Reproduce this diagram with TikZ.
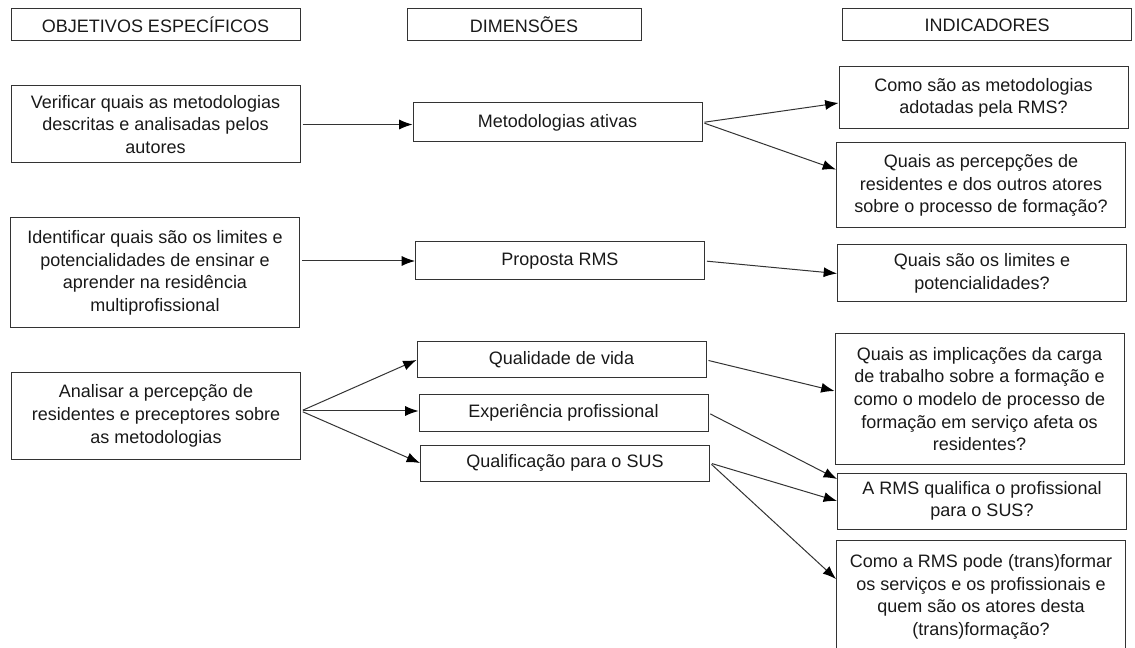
\documentclass[tikz,border=0pt]{standalone}
\usepackage{fontspec}
\setmainfont{Liberation Sans}
\usepackage{tikz}
\usetikzlibrary{arrows.meta}

\begin{document}
\begin{tikzpicture}[x=0.75pt, y=-0.75pt,
    box/.style={draw=black!80, line width=0.75pt, inner sep=0pt, align=center,
        minimum width=216.75pt, text=black!90, font=\fontsize{13.5}{17}\selectfont},
    arr/.style={draw=black!80, line width=0.75pt, shorten <=1.5pt,
        -{Latex[length=10pt,width=7.5pt,color=black]}}]

    % Fix the page to the size of the picture
    \useasboundingbox (0,0) rectangle (1135,648);

    % Draw the header boxes
    \node[box, minimum height=24pt] (hObj) at (155.5,25) {OBJETIVOS ESPECÍFICOS};
    \node[box, minimum height=24pt, minimum width=175.5pt] (hDim) at (524,25) {DIMENSÕES};
    \node[box, minimum height=24pt] (hInd) at (987,25) {INDICADORES};

    % Draw the objective boxes
    \node[box, minimum height=57.75pt] (obj1) at (155.5,124.5) {Verificar quais as metodologias\\descritas e analisadas pelos\\autores};
    \node[box, minimum height=82.5pt] (obj2) at (155,273) {Identificar quais são os limites e\\potencialidades de ensinar e\\aprender na residência\\multiprofissional};
    \node[box, minimum height=64.5pt] (obj3) at (156,416) {Analisar a percepção de\\residentes e preceptores sobre\\as metodologias};

    % Draw the dimension boxes
    \node[box, minimum height=29.25pt] (dim1) at (557.5,122.5) {Metodologias ativas};
    \node[box, minimum height=28.5pt] (dim2) at (560,261) {Proposta RMS};
    \node[box, minimum height=27pt] (dim3) at (561.5,360) {Qualidade de vida};
    \node[box, minimum height=27pt] (dim4) at (563.5,413) {Experiência profissional};
    \node[box, minimum height=27pt] (dim5) at (565,463) {Qualificação para o SUS};

    % Draw the indicator boxes
    \node[box, minimum height=46.5pt] (ind1) at (983.5,98) {Como são as metodologias\\adotadas pela RMS?};
    \node[box, minimum height=63.75pt] (ind2) at (981,185.5) {Quais as percepções de\\residentes e dos outros atores\\sobre o processo de formação?};
    \node[box, minimum height=42.75pt] (ind3) at (982,273.5) {Quais são os limites e\\potencialidades?};
    \node[box, minimum height=97.5pt] (ind4) at (979.5,399) {Quais as implicações da carga\\de trabalho sobre a formação e\\como o modelo de processo de\\formação em serviço afeta os\\residentes?};
    \node[box, minimum height=42pt] (ind5) at (982,501) {A RMS qualifica o profissional\\para o SUS?};
    \node[box, minimum height=85.5pt] (ind6) at (981,597) {Como a RMS pode (trans)formar\\os serviços e os profissionais e\\quem são os atores desta\\(trans)formação?};

    % Arrows from objectives to dimensions
    \coordinate (fan) at ([yshift=3.75pt]obj3.east);
    \draw[arr] (obj1.east) -- (obj1.east -| dim1.west);
    \draw[arr] (dim2.west -| obj2.east) -- (dim2.west);
    \draw[arr] (fan) -- (dim3.west);
    \draw[arr] (fan) -- (fan -| dim4.west);
    \draw[arr] (fan) -- (dim5.west);

    % Arrows from dimensions to indicators
    \draw[arr] (dim1.east) -- ([yshift=-3.75pt]ind1.west);
    \draw[arr] (dim1.east) -- ([yshift=12pt]ind2.west);
    \draw[arr] (dim2.east) -- (ind3.west);
    \draw[arr] (dim3.east) -- ([yshift=6pt]ind4.west);
    \draw[arr] (dim4.east) -- ([yshift=16.5pt]ind5.west);
    \draw[arr] (dim5.east) -- (ind5.west);
    \draw[arr] (dim5.east) -- ([yshift=13.5pt]ind6.west);

\end{tikzpicture}
\end{document}
